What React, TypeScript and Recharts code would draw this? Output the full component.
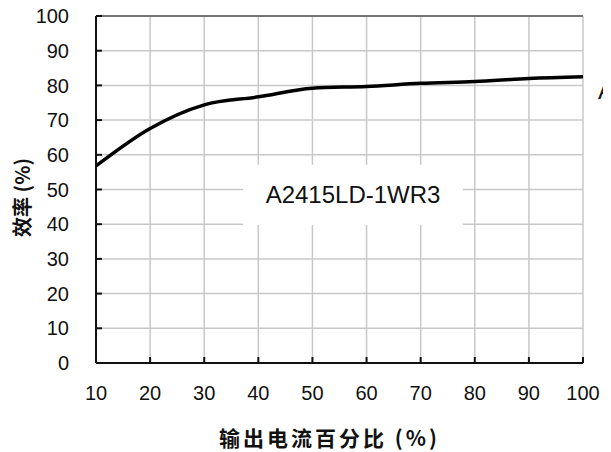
import { LineChart, Line, XAxis, YAxis, CartesianGrid, ReferenceArea, ReferenceLine } from "recharts"

const loadPercent = [10, 20, 30, 40, 50, 60, 70, 80, 90, 100]
const efficiency = [56.8, 67.6, 74.4, 76.7, 79.2, 79.7, 80.6, 81.1, 82.0, 82.5]
const xTicks = [10, 20, 30, 40, 50, 60, 70, 80, 90, 100]
const yTicks = [0, 10, 20, 30, 40, 50, 60, 70, 80, 90, 100]
const modelName = "A2415LD-1WR3"

const data = loadPercent.map((x, i) => ({ x, eff: efficiency[i] }))

const tickFont = { fontFamily: "'Liberation Sans', Arial, sans-serif", fontSize: 20, fill: "#111" }

export default function App() {
  return (
    <LineChart
      width={603}
      height={444}
      data={data}
      margin={{ top: 8, right: 28, left: 0, bottom: 0 }}
      style={{ overflow: "visible" }}
    >
      <CartesianGrid stroke="#c8c8c8" strokeWidth={1.5} />
      <ReferenceArea
        x1={37.2}
        x2={77.8}
        y1={39.8}
        y2={57.1}
        fill="#fff"
        fillOpacity={1}
        stroke="none"
        label={{
          value: modelName,
          position: "center",
          fontFamily: "'Liberation Sans', Arial, sans-serif",
          fontSize: 24,
          fill: "#111",
        }}
      />
      <ReferenceLine y={100} stroke="#555" strokeWidth={1.5} />
      <XAxis
        dataKey="x"
        type="number"
        domain={[10, 100]}
        ticks={xTicks}
        interval={0}
        height={89}
        tickSize={-6}
        tickMargin={29}
        stroke="#111"
        strokeWidth={2}
        tick={tickFont}
        label={{
          value: "输出电流百分比 (%)",
          position: "center",
          dx: -10,
          dy: 31,
          fontFamily: "'Noto Sans CJK SC', sans-serif",
          fontWeight: 700,
          fontSize: 21,
          letterSpacing: 3,
          fill: "#111",
        }}
      />
      <YAxis
        type="number"
        domain={[0, 100]}
        ticks={yTicks}
        interval={0}
        width={88}
        tickSize={-6}
        tickMargin={33}
        stroke="#111"
        strokeWidth={2}
        tick={tickFont}
        label={{
          value: "效率 (%)",
          angle: -90,
          position: "center",
          dx: -29,
          dy: 8,
          fontFamily: "'Noto Sans CJK SC', sans-serif",
          fontWeight: 700,
          fontSize: 20,
          fill: "#111",
        }}
      />
      <Line
        dataKey="eff"
        type="monotone"
        stroke="#000"
        strokeWidth={3.5}
        dot={false}
        isAnimationActive={false}
      />
      <text x={590} y={91} fontFamily="'Liberation Sans', Arial, sans-serif" fontSize={24} fill="#111">
        {modelName}
      </text>
    </LineChart>
  )
}
